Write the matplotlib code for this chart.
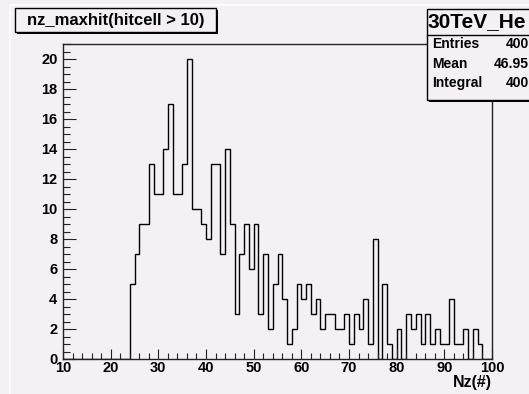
import numpy as np
import matplotlib
matplotlib.use("Agg")
import matplotlib.pyplot as plt
from matplotlib.patches import Rectangle
from matplotlib.lines import Line2D

# ---- data ----
bin_low = 10
bin_high = 100
counts = [0]*14 + [
    5, 7, 9, 9, 13, 11, 11, 14, 17, 11,   # 24-33
    11, 13, 20, 10, 10, 9, 8, 13, 13, 7,  # 34-43
    14, 9, 3, 7, 9, 6, 9, 3, 7, 2,        # 44-53
    5, 7, 4, 1, 2, 5, 4, 5, 3, 4,         # 54-63
    2, 3, 3, 2, 2, 3, 1, 3, 2, 4,         # 64-73
    1, 8, 0, 5, 1, 0, 2, 0, 3, 2,         # 74-83
    3, 1, 3, 1, 2, 1, 1, 4, 1, 1,         # 84-93
    2, 0, 2, 1, 0, 0                      # 94-99
]
x_ticks = [10, 20, 30, 40, 50, 60, 70, 80, 90, 100]
y_ticks = [0, 2, 4, 6, 8, 10, 12, 14, 16, 18, 20]
title_text = "nz_maxhit(hitcell > 10)"
stats_title = "30TeV_He"
stats_labels = ["Entries", "Mean", "Integral"]
stats_values = ["400", "46.95", "400"]
x_label = "Nz(#)"

W, H = 529, 394
BG = "#f4f0f4"
FONT = "Liberation Sans"

plt.rcParams["font.family"] = [FONT, "DejaVu Sans"]
plt.rcParams["font.weight"] = "bold"

fig = plt.figure(figsize=(W/100, H/100), dpi=100, facecolor=BG)

def fx(x):
    return x / W

def fy(y):
    return 1 - y / H

L, R, T, B = 63, 492, 44, 359
ax = fig.add_axes([fx(L), fy(B), (R - L)/W, (B - T)/H])
ax.set_facecolor(BG)

edges = np.arange(bin_low, bin_high + 1)
ax.stairs(counts, edges, color="black", lw=1.0)

ax.set_xlim(bin_low, bin_high)
ax.set_ylim(0, 21)
ax.set_xticks(x_ticks)
ax.set_xticks(np.arange(bin_low, bin_high + 1, 2), minor=True)
ax.set_yticks(y_ticks)
ax.set_yticks(np.arange(0, 21.01, 0.5), minor=True)
ax.set_xticklabels([str(v) for v in x_ticks])
ax.set_yticklabels([str(v) for v in y_ticks])

for s in ["top", "right", "left", "bottom"]:
    ax.spines[s].set_linewidth(1.0)
    ax.spines[s].set_color("#222222")

ax.tick_params(axis="both", which="both", direction="in", top=False, right=False,
               width=0.8, color="#222222", labelsize=10.5)
ax.tick_params(axis="y", which="major", length=9.5, pad=4)
ax.tick_params(axis="y", which="minor", length=4.8)
ax.tick_params(axis="x", which="major", length=7, pad=1.5)
ax.tick_params(axis="x", which="minor", length=4)
for lab in ax.get_xticklabels() + ax.get_yticklabels():
    lab.set_fontweight("bold")
    lab.set_fontfamily(FONT)

# x label
fig.text(fx(492), fy(382), x_label, ha="right", va="center", fontsize=11.5,
         fontweight="bold", fontfamily=FONT)

# bevel lines
fig.add_artist(Line2D([fx(10), fx(10)], [fy(5), 0], color="white", lw=1.2, zorder=0.5))
fig.add_artist(Line2D([fx(10), 1], [fy(5), fy(5)], color="white", lw=1.2, zorder=0.5))

def box(x0, y0, x1, y1, shadow=2.0):
    fig.add_artist(Rectangle((fx(x0 + shadow), fy(y1 + shadow)), (x1 - x0)/W, (y1 - y0)/H,
                             facecolor="black", edgecolor="black", lw=0, zorder=5))
    fig.add_artist(Rectangle((fx(x0), fy(y1)), (x1 - x0)/W, (y1 - y0)/H,
                             facecolor=BG, edgecolor="black", lw=1.0, zorder=6))

# title box
box(15, 8, 216, 32)
fig.text(fx(115.5), fy(20.5), title_text, ha="center", va="center", fontsize=12,
         fontweight="bold", fontfamily=FONT, zorder=7)

# stats box
box(427, 9, 540, 100)
fig.add_artist(Line2D([fx(427), 1], [fy(35), fy(35)], color="black", lw=1.0, zorder=7))
fig.text(fx(428), fy(22), stats_title, ha="left", va="center", fontsize=15,
         fontweight="bold", fontfamily=FONT, zorder=7)
row_y = [44, 64, 83]
for lab, val, yy in zip(stats_labels, stats_values, row_y):
    fig.text(fx(432), fy(yy), lab, ha="left", va="center", fontsize=10,
             fontweight="bold", fontfamily=FONT, zorder=7)
    fig.text(fx(529), fy(yy), val, ha="right", va="center", fontsize=10,
             fontweight="bold", fontfamily=FONT, zorder=7)

fig.savefig("out.png", dpi=100, facecolor=BG)
